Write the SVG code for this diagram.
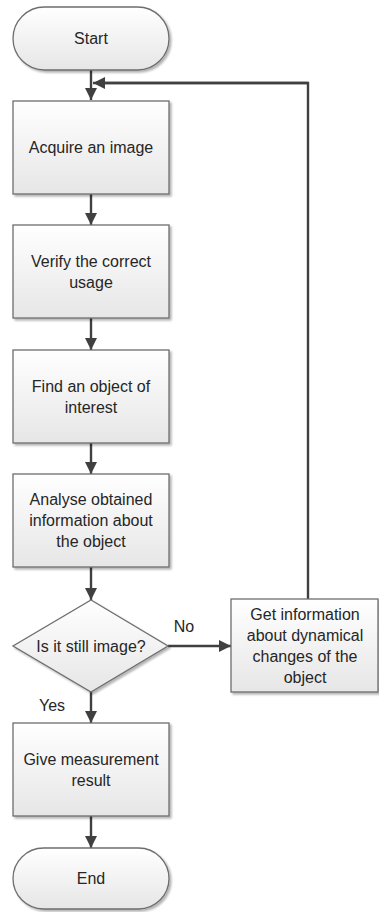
<svg xmlns="http://www.w3.org/2000/svg" width="379" height="912" viewBox="0 0 379 912">
  <defs>
    <linearGradient id="fill" x1="0" y1="0" x2="0" y2="1">
      <stop offset="0" stop-color="#ffffff"/>
      <stop offset="1" stop-color="#e6e6e6"/>
    </linearGradient>
    <filter id="shadow" x="-10%" y="-10%" width="125%" height="125%">
      <feGaussianBlur in="SourceAlpha" stdDeviation="1.2"/>
      <feOffset dx="2" dy="2" result="b"/>
      <feComponentTransfer><feFuncA type="linear" slope="0.3"/></feComponentTransfer>
      <feMerge><feMergeNode/><feMergeNode in="SourceGraphic"/></feMerge>
    </filter>
    <marker id="arrow" viewBox="0 0 12 12" refX="12" refY="6" markerWidth="12" markerHeight="12" markerUnits="userSpaceOnUse" orient="auto">
      <path d="M0,0 L12,6 L0,12 Z" fill="#404040"/>
    </marker>
  </defs>
  <style>
    .shape { fill: url(#fill); stroke: #6e6e6e; stroke-width: 1.3; filter: url(#shadow); }
    .label { font-family: "Liberation Sans", Arial, sans-serif; font-size: 16px; fill: #262626; text-anchor: middle; }
    .edge { fill: none; stroke: #404040; stroke-width: 2.4; marker-end: url(#arrow); }
    .line { fill: none; stroke: #404040; stroke-width: 2.4; }
  </style>

  <rect width="379" height="912" fill="#ffffff"/>

  <g id="connectors">
    <path class="edge" d="M91,70 V100"/>
    <path class="line" d="M308,599 V83 H104"/>
    <path class="edge" d="M308,83 H93"/>
    <path class="edge" d="M91,194 V225"/>
    <path class="edge" d="M91,318 V350"/>
    <path class="edge" d="M91,443 V474"/>
    <path class="edge" d="M91,567 V600"/>
    <path class="edge" d="M168,646 H231"/>
    <path class="edge" d="M91,692 V723"/>
    <path class="edge" d="M91,816 V848"/>
    <text class="label" x="184" y="632">No</text>
    <text class="label" x="52" y="711">Yes</text>
  </g>

  <g id="start">
    <rect class="shape" x="13" y="7" width="156" height="63" rx="31.5"/>
    <text class="label" x="91" y="44">Start</text>
  </g>

  <g id="acquire">
    <rect class="shape" x="13" y="101" width="156" height="93"/>
    <text class="label" x="91" y="153">Acquire an image</text>
  </g>

  <g id="verify">
    <rect class="shape" x="13" y="225" width="156" height="93"/>
    <text class="label" x="91" y="267">Verify the correct</text>
    <text class="label" x="91" y="288">usage</text>
  </g>

  <g id="find">
    <rect class="shape" x="13" y="350" width="156" height="93"/>
    <text class="label" x="91" y="392">Find an object of</text>
    <text class="label" x="91" y="413">interest</text>
  </g>

  <g id="analyse">
    <rect class="shape" x="13" y="474" width="156" height="93"/>
    <text class="label" x="91" y="505">Analyse obtained</text>
    <text class="label" x="91" y="526">information about</text>
    <text class="label" x="91" y="547">the object</text>
  </g>

  <g id="decision">
    <path class="shape" d="M91,600 L168,646 L91,692 L13,646 Z"/>
    <text class="label" x="91" y="652">Is it still image?</text>
  </g>

  <g id="dynamics">
    <rect class="shape" x="231" y="599" width="147" height="93"/>
    <text class="label" x="305" y="620">Get information</text>
    <text class="label" x="305" y="641">about dynamical</text>
    <text class="label" x="305" y="662">changes of the</text>
    <text class="label" x="305" y="683">object</text>
  </g>

  <g id="measure">
    <rect class="shape" x="13" y="723" width="156" height="93"/>
    <text class="label" x="91" y="765">Give measurement</text>
    <text class="label" x="91" y="786">result</text>
  </g>

  <g id="end">
    <rect class="shape" x="13" y="848" width="156" height="61" rx="30.5"/>
    <text class="label" x="91" y="884">End</text>
  </g>
</svg>
